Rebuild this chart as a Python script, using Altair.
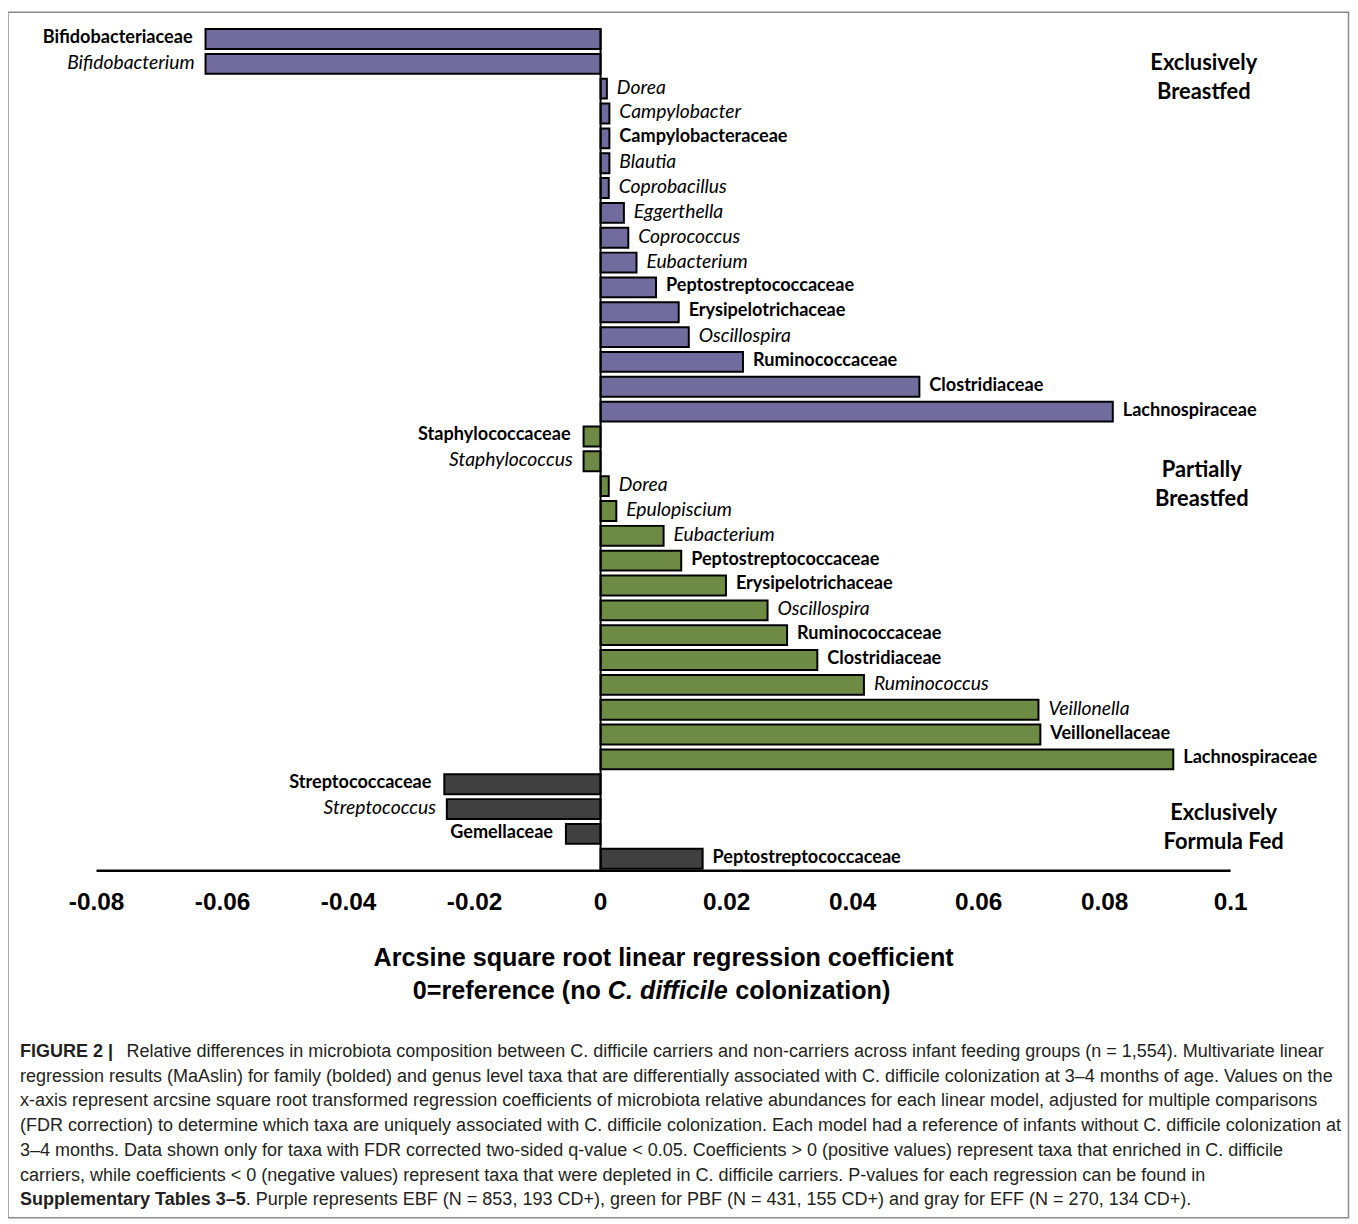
import altair as alt
import pandas as pd

# ---------------- data ----------------
groups = ["EBF", "PBF", "EFF"]
group_colors = ["#716B9E", "#6E8B46", "#404040"]

ebf_taxa = ["Bifidobacteriaceae", "Bifidobacterium", "Dorea", "Campylobacter", "Campylobacteraceae",
            "Blautia", "Coprobacillus", "Eggerthella", "Coprococcus", "Eubacterium",
            "Peptostreptococcaceae", "Erysipelotrichaceae", "Oscillospira", "Ruminococcaceae",
            "Clostridiaceae", "Lachnospiraceae"]
ebf_values = [-0.0627, -0.0627, 0.0010, 0.0014, 0.0014, 0.0014, 0.0013, 0.0037, 0.0044, 0.0057,
              0.0088, 0.0124, 0.0140, 0.0226, 0.0506, 0.0813]
ebf_family = [True, False, False, False, True, False, False, False, False, False,
              True, True, False, True, True, True]

pbf_taxa = ["Staphylococcaceae", "Staphylococcus", "Dorea", "Epulopiscium", "Eubacterium",
            "Peptostreptococcaceae", "Erysipelotrichaceae", "Oscillospira", "Ruminococcaceae",
            "Clostridiaceae", "Ruminococcus", "Veillonella", "Veillonellaceae", "Lachnospiraceae"]
pbf_values = [-0.0027, -0.0027, 0.0013, 0.0025, 0.0100, 0.0128, 0.0199, 0.0265, 0.0296,
              0.0344, 0.0418, 0.0695, 0.0698, 0.0909]
pbf_family = [True, False, False, False, False, True, True, False, True, True, False, False, True, True]

eff_taxa = ["Streptococcaceae", "Streptococcus", "Gemellaceae", "Peptostreptococcaceae"]
eff_values = [-0.0248, -0.0244, -0.0055, 0.0162]
eff_family = [True, False, True, True]

tick_values = [-0.08, -0.06, -0.04, -0.02, 0, 0.02, 0.04, 0.06, 0.08, 0.1]
tick_labels = ["-0.08", "-0.06", "-0.04", "-0.02", "0", "0.02", "0.04", "0.06", "0.08", "0.1"]

group_titles = [["Exclusively", "Breastfed"], ["Partially", "Breastfed"], ["Exclusively", "Formula Fed"]]

axis_title_1 = "Arcsine square root linear regression coefficient"
axis_title_2 = ["0=reference (no", "C. difficile", "colonization)"]

caption_bold_1 = "FIGURE 2 |"
caption_line_1 = ("Relative differences in microbiota composition between C. difficile carriers and "
                  "non-carriers across infant feeding groups (n = 1,554). Multivariate linear")
caption_middle = [
    "regression results (MaAslin) for family (bolded) and genus level taxa that are differentially associated with C. difficile colonization at 3–4 months of age. Values on the",
    "x-axis represent arcsine square root transformed regression coefficients of microbiota relative abundances for each linear model, adjusted for multiple comparisons",
    "(FDR correction) to determine which taxa are uniquely associated with C. difficile colonization. Each model had a reference of infants without C. difficile colonization at",
    "3–4 months. Data shown only for taxa with FDR corrected two-sided q-value < 0.05. Coefficients > 0 (positive values) represent taxa that enriched in C. difficile",
    "carriers, while coefficients < 0 (negative values) represent taxa that were depleted in C. difficile carriers. P-values for each regression can be found in",
]
caption_bold_7 = "Supplementary Tables 3–5"
caption_line_7 = ". Purple represents EBF (N = 853, 193 CD+), green for PBF (N = 431, 155 CD+) and gray for EFF (N = 270, 134 CD+)."

# ---------------- table ----------------
rows = []
for g, taxa, vals, fam in [("EBF", ebf_taxa, ebf_values, ebf_family),
                           ("PBF", pbf_taxa, pbf_values, pbf_family),
                           ("EFF", eff_taxa, eff_values, eff_family)]:
    for t, v, f in zip(taxa, vals, fam):
        rows.append({"group": g, "taxon": t, "value": v, "family": f})
df = pd.DataFrame(rows)
df["row"] = list(range(len(df)))

W, H = 1349, 1216
LABEL_FONT = "Lato"
AX_FONT = "Liberation Sans"

xscale = alt.Scale(domain=[-0.08, 0.1], range=[89, 1229], nice=False, zero=False)
yscale = alt.Scale(domain=list(range(len(df))), range=[15.5, 864.5], paddingInner=0.2, paddingOuter=0.1)

base = alt.Chart(df)

border = alt.Chart(pd.DataFrame({"k": [0]})).mark_rect(
    fillOpacity=0, stroke="#8a8a8a", strokeWidth=1.5
).encode(x=alt.value(0), x2=alt.value(1347.5), y=alt.value(1), y2=alt.value(1213))

bars = base.mark_bar(stroke="black", strokeWidth=2).encode(
    x=alt.X("value:Q", scale=xscale, stack=None, axis=None),
    y=alt.Y("row:O", scale=yscale, axis=None),
    color=alt.Color("group:N", scale=alt.Scale(domain=groups, range=group_colors), legend=None),
)


def label_layer(cond, align, dx, bold):
    kw = dict(align=align, baseline="middle", dx=dx, dy=-1, font=LABEL_FONT, color="black")
    if bold:
        kw["fontWeight"] = "bold"
        kw["fontSize"] = 18.2
    else:
        kw["fontStyle"] = "italic"
        kw["fontSize"] = 19.4
    return base.transform_filter(cond).mark_text(**kw).encode(
        x=alt.X("value:Q", scale=xscale, axis=None),
        y=alt.Y("row:O", scale=yscale, axis=None),
        text="taxon:N",
    )


lab_pos_b = label_layer("datum.value >= 0 && datum.family", "left", 10, True)
lab_pos_i = label_layer("datum.value >= 0 && !datum.family", "left", 10, False)
lab_neg_b = label_layer("datum.value < 0 && datum.family", "right", -13, True)
lab_neg_i = label_layer("datum.value < 0 && !datum.family", "right", -11, False)

zero_line = alt.Chart(pd.DataFrame({"v": [0.0]})).mark_rule(color="black", strokeWidth=2).encode(
    x=alt.X("v:Q", scale=xscale, axis=None), y=alt.value(18), y2=alt.value(864)
)
axis_line = alt.Chart(pd.DataFrame({"a": [tick_values[0]], "b": [tick_values[-1]]})).mark_rule(
    color="black", strokeWidth=2.5
).encode(x=alt.X("a:Q", scale=xscale, axis=None), x2="b:Q", y=alt.value(864))

ticks = alt.Chart(pd.DataFrame({"t": tick_values, "lab": tick_labels})).mark_text(
    font=AX_FONT, fontSize=24.5, fontWeight="bold", baseline="middle", color="black"
).encode(x=alt.X("t:Q", scale=xscale, axis=None), y=alt.value(897), text="lab:N")


def txt(s, x, y, align="center", size=16, weight=None, style=None, font=LABEL_FONT, color="black"):
    kw = dict(align=align, baseline="middle", font=font, fontSize=size, color=color)
    if weight:
        kw["fontWeight"] = weight
    if style:
        kw["fontStyle"] = style
    return alt.Chart(pd.DataFrame({"s": [s]})).mark_text(**kw).encode(
        x=alt.value(x), y=alt.value(y), text="s:N"
    )


GT = 22
title_layers = [
    txt(group_titles[0][0], 1202, 52, size=GT, weight="bold"),
    txt(group_titles[0][1], 1202, 81, size=GT, weight="bold"),
    txt(group_titles[1][0], 1200, 461, size=GT, weight="bold"),
    txt(group_titles[1][1], 1200, 490, size=GT, weight="bold"),
    txt(group_titles[2][0], 1222, 806, size=GT, weight="bold"),
    txt(group_titles[2][1], 1222, 835, size=GT, weight="bold"),
]

AT = 25.3
axis_title_layers = [
    txt(axis_title_1, 659, 952, size=AT, weight="bold", font=AX_FONT),
    txt(axis_title_2[0], 596, 985, align="right", size=AT, weight="bold", font=AX_FONT),
    txt(axis_title_2[1], 603, 985, align="left", size=AT, weight="bold", style="italic", font=AX_FONT),
    txt(axis_title_2[2], 731, 985, align="left", size=AT, weight="bold", font=AX_FONT),
]

CAP_FONT = "Liberation Sans"
CAP_SIZE = 18.1
CAP_COLOR = "#231f20"
cap_layers = [
    txt(caption_bold_1, 12, 1046, align="left", size=CAP_SIZE, weight="bold", font=CAP_FONT, color=CAP_COLOR),
    txt(caption_line_1, 119, 1046, align="left", size=CAP_SIZE, font=CAP_FONT, color=CAP_COLOR),
]
for i, line in enumerate(caption_middle):
    cap_layers.append(txt(line, 12, 1071 + 25 * i, align="left", size=CAP_SIZE, font=CAP_FONT, color=CAP_COLOR))
cap_layers.append(txt(caption_bold_7, 12, 1195, align="left", size=CAP_SIZE, weight="bold", font=CAP_FONT, color=CAP_COLOR))
cap_layers.append(txt(caption_line_7, 239, 1195, align="left", size=CAP_SIZE, font=CAP_FONT, color=CAP_COLOR))

chart = alt.layer(
    border, bars, zero_line, axis_line, lab_pos_b, lab_pos_i, lab_neg_b, lab_neg_i, ticks,
    *title_layers, *axis_title_layers, *cap_layers
).properties(
    width=W, height=H, autosize=alt.AutoSizeParams(type="none"), padding=0
).configure_view(stroke=None)

chart.save("out.html", embed_options={"renderer": "svg", "actions": False})
